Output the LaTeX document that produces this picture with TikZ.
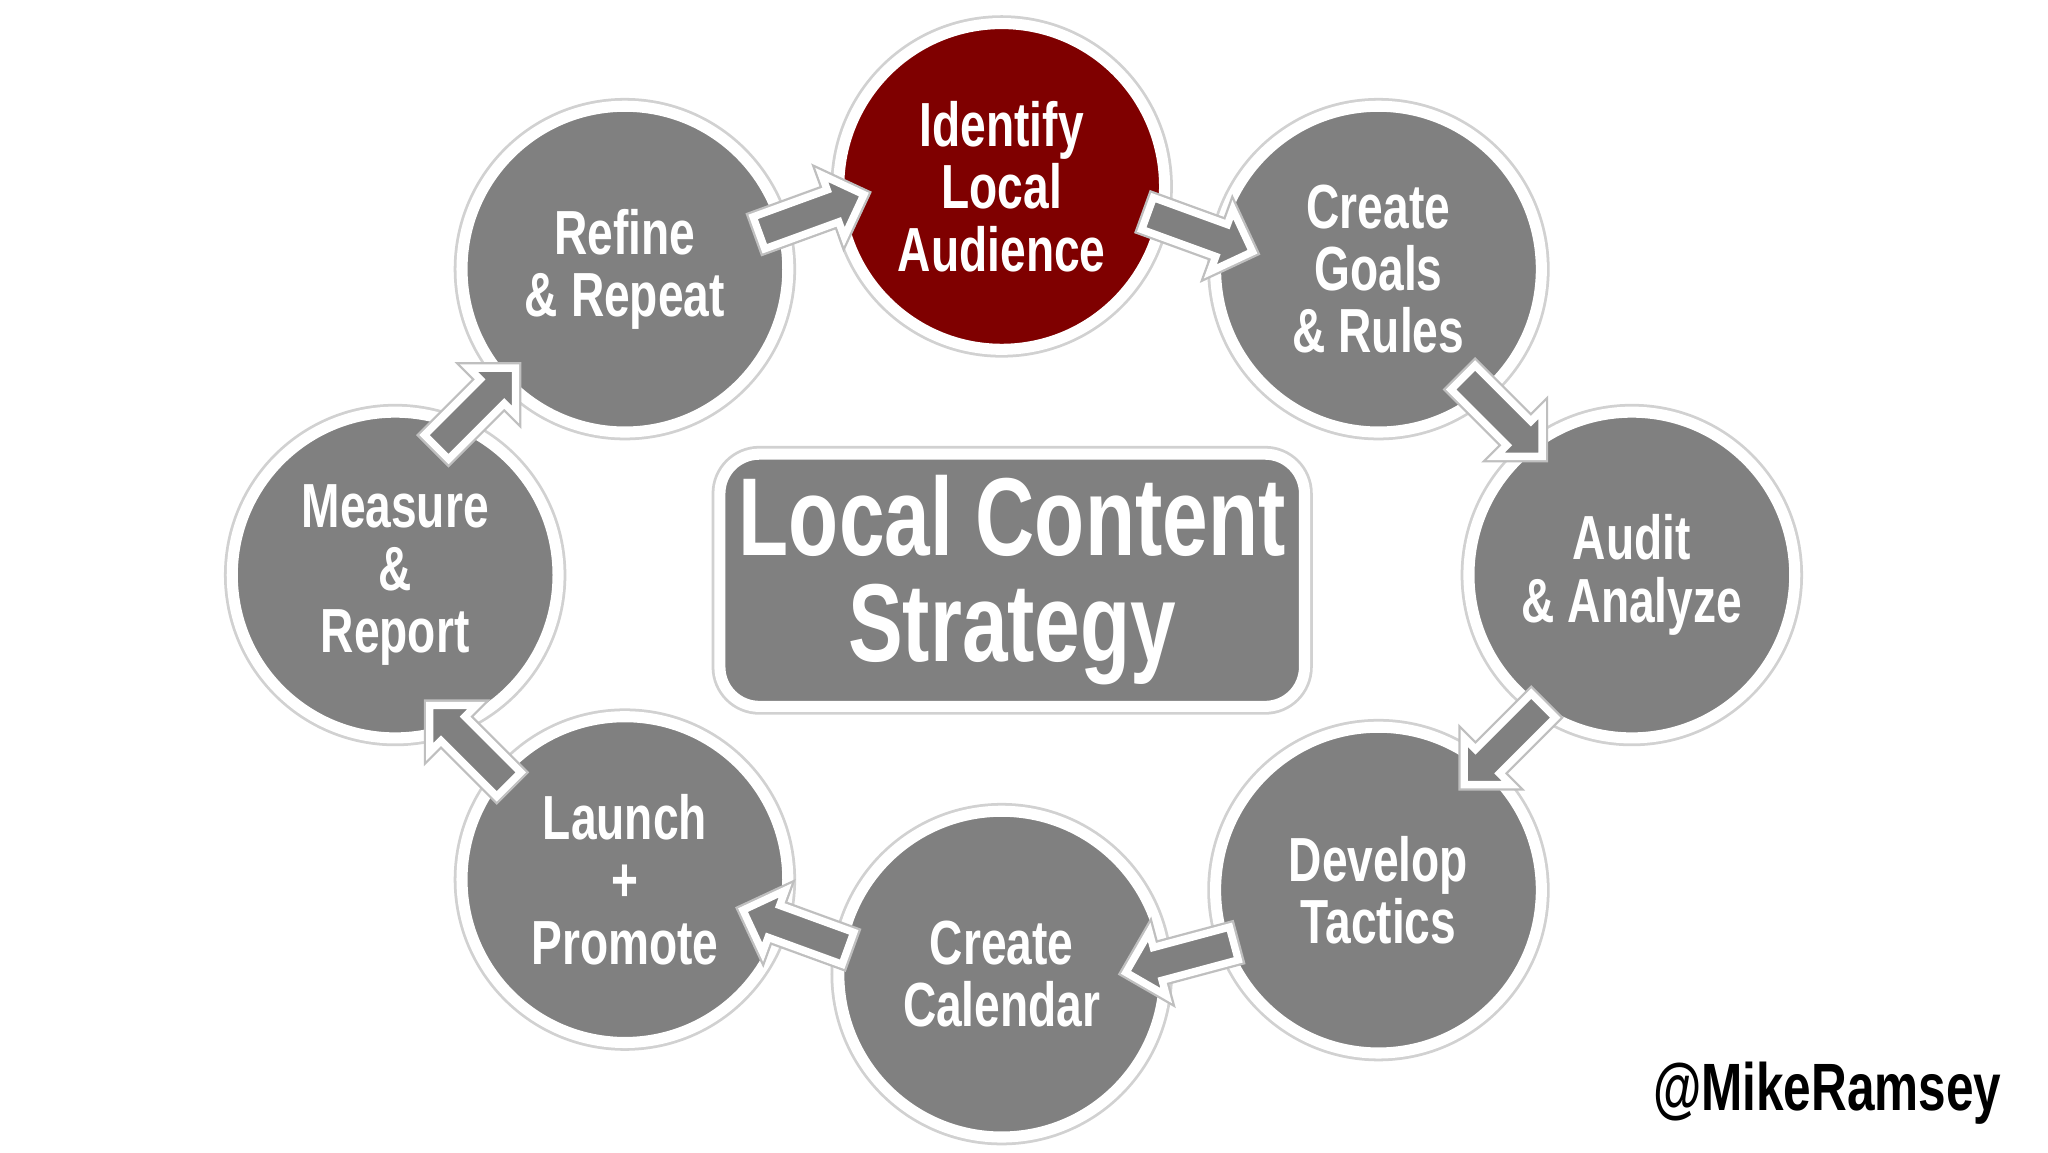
\documentclass[tikz,border=0pt]{standalone}
\usepackage{fontspec}
\setmainfont{Liberation Sans}
\usetikzlibrary{shapes.arrows,shadows}
\newcommand{\cnd}[1]{\scalebox{0.74}[1]{#1}}
\definecolor{cg}{HTML}{808080}
\definecolor{cr}{HTML}{7F0000}
\tikzset{
 stepcirc/.style={circle, minimum size=2.48cm, fill=cg, draw=white, line width=2.4pt, text=white,
   font=\bfseries\fontsize{13.5}{13.5}\selectfont, align=center, inner sep=0pt,
   preaction={draw=black!18, line width=3.6pt}},
 blockarr/.style={single arrow, fill=cg, draw=white, line width=1.6pt, minimum height=0.85cm,
   minimum width=0.5cm, single arrow head extend=0.12cm, inner sep=0.1cm,
   preaction={draw=black!25, line width=2.6pt}}
}
\begin{document}
\begin{tikzpicture}[x=0.01cm,y=-0.01cm]
\useasboundingbox[fill=white] (0,0) rectangle (1560,878);
\node[stepcirc, fill=cr] (ida) at (763,142) {\cnd{Identify}\\\cnd{Local}\\\cnd{Audience}};
\node[stepcirc] (goal) at (1050,205) {\cnd{Create}\\\cnd{Goals}\\\cnd{\& Rules}};
\node[stepcirc] (aud) at (1243,438) {\cnd{Audit}\\\cnd{\& Analyze}};
\node[stepcirc] (dev) at (1050,678) {\cnd{Develop}\\\cnd{Tactics}};
\node[stepcirc] (cal) at (763,742) {\cnd{Create}\\\cnd{Calendar}};
\node[stepcirc] (lau) at (476,670) {\cnd{Launch}\\\cnd{+}\\\cnd{Promote}};
\node[stepcirc] (mea) at (301,438) {\cnd{Measure}\\\cnd{\&}\\\cnd{Report}};
\node[stepcirc] (ref) at (476,205) {\cnd{Refine}\\\cnd{\& Repeat}};
\node[rounded corners=0.3cm, fill=cg, draw=white, line width=2.4pt, preaction={draw=black!18, line width=3.6pt, rounded corners=0.3cm},
  minimum width=4.45cm, minimum height=1.92cm, text=white, align=center,
  font=\bfseries\fontsize{24}{23}\selectfont] (title) at (771,442) {\cnd{Local Content}\\\cnd{Strategy}};
\node[blockarr, rotate=20] (a1) at (612,165) {};
\node[blockarr, rotate=-20] (a2) at (908,175) {};
\node[blockarr, rotate=-45] (a3) at (1140,313) {};
\node[blockarr, rotate=-135] (a4) at (1150,563) {};
\node[blockarr, rotate=195] (a5) at (905,728) {};
\node[blockarr, rotate=160] (a6) at (612,710) {};
\node[blockarr, rotate=135] (a7) at (362,572) {};
\node[blockarr, rotate=45] (a8) at (358,315) {};
\node[font=\bfseries\fontsize{14.5}{15}\selectfont, anchor=east] (tw) at (1537,833) {\cnd{@MikeRamsey}};
\end{tikzpicture}
\end{document}
